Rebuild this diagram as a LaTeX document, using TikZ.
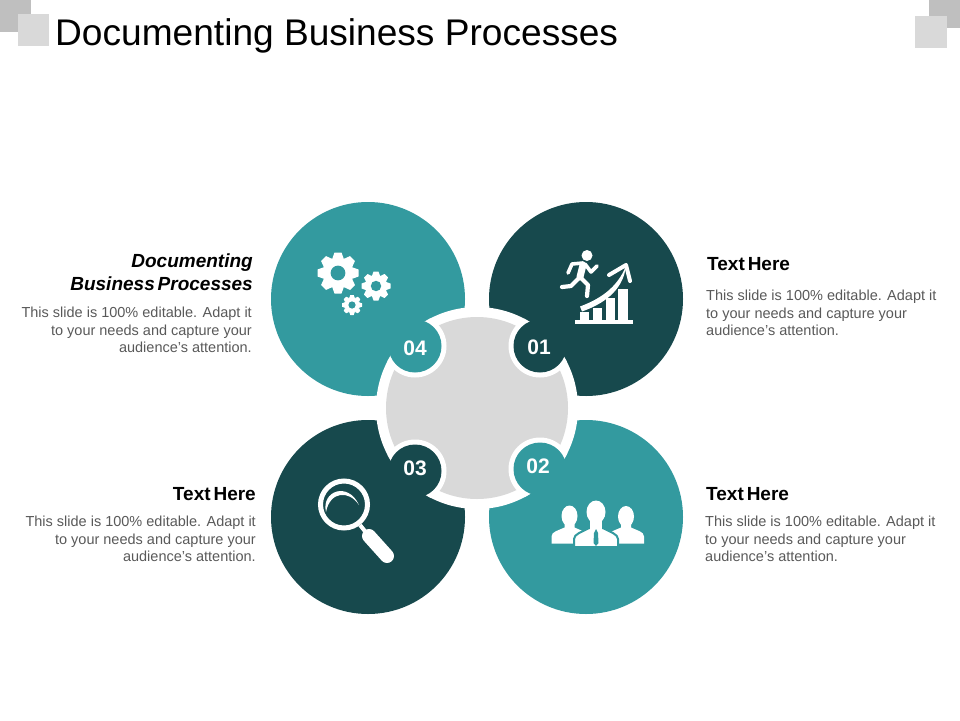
\documentclass[tikz,border=0pt]{standalone}
\usepackage{fontspec}
\setmainfont{Liberation Sans}
\newfontfamily\headfamily[WordSpace=0.55]{Liberation Sans}
\definecolor{tealc}{HTML}{339A9F}
\definecolor{darkc}{HTML}{17494D}
\definecolor{grayc}{HTML}{D9D9D9}
\definecolor{grayd}{HTML}{BFBFBF}
\definecolor{bodyc}{HTML}{595959}
\tikzset{
  bigc/.style={circle,minimum size=194pt,inner sep=0pt},
  numc/.style={circle,minimum size=53pt,inner sep=0pt},
  numt/.style={text=white,font=\fontsize{21}{21}\selectfont\bfseries},
  headr/.style={font=\headfamily\fontsize{19}{23}\selectfont\bfseries,align=left,anchor=west,inner sep=0pt},
  headl/.style={font=\headfamily\fontsize{19}{23}\selectfont\bfseries,align=right,anchor=east,inner sep=0pt},
  bodyr/.style={text=bodyc,font=\fontsize{14.5}{17.5}\selectfont,align=left,anchor=west,inner sep=0pt},
  bodyl/.style={text=bodyc,font=\fontsize{14.5}{17.5}\selectfont,align=right,anchor=east,inner sep=0pt},
  icon/.style={white,line cap=round,line join=round}
}
\newcommand{\gearicon}[4]{% x, y, radius, hole colour
  \fill[white] (#1,#2) circle (#3*.76);
  \foreach \a in {0,45,...,315}
    \fill[white,shift={(#1,#2)},rotate=\a] (-#3*.28,#3*.7) -- (-#3*.17,#3) -- (#3*.17,#3) -- (#3*.28,#3*.7) -- cycle;
  \fill[#4] (#1,#2) circle (#3*.36);
}
\newcommand{\personicon}[3]{% x of head, y of head, base y
  \fill[white] (#1,#2) ellipse (8 and 10.5);
  \fill[white] (#1-18,#3) -- (#1-18,#3-7) .. controls (#1-18,#3-12) and (#1-11,#3-13) .. (#1-5,#3-16) -- (#1-5,#3-24) -- (#1+5,#3-24) -- (#1+5,#3-16) .. controls (#1+11,#3-13) and (#1+18,#3-12) .. (#1+18,#3-7) -- (#1+18,#3) -- cycle;
}
\begin{document}
\begin{tikzpicture}[x=1pt,y=-1pt]
  \useasboundingbox (0,0) rectangle (960,720);
  % corner squares
  \fill[grayd] (0,0) rectangle (31,32);
  \fill[grayc] (18,14) rectangle (49,46);
  \fill[grayd] (929,0) rectangle (960,28);
  \fill[grayc] (915,16) rectangle (947,48);
  \node[anchor=west,inner sep=0pt,font=\fontsize{37.1}{37}\selectfont] (title) at (55,36) {Documenting Business Processes};
  % big circles
  \node[bigc,fill=tealc] (c4) at (368,299) {};
  \node[bigc,fill=darkc] (c1) at (586,299) {};
  \node[bigc,fill=darkc] (c3) at (368,517) {};
  \node[bigc,fill=tealc] (c2) at (586,517) {};
  % centre
  \fill[white] (477,408) circle (101);
  \fill[grayc] (477,408) circle (91);
  \begin{scope}
    \clip (477,408) circle (101);
    \foreach \p in {(415,346),(540,346),(415,471),(540,469)}
      \fill[white] \p circle (31.5);
  \end{scope}
  \node[numc,fill=darkc] (n1) at (540,346) {};
  \node[numc,fill=tealc] (n2) at (540,469) {};
  \node[numc,fill=darkc] (n3) at (415,471) {};
  \node[numc,fill=tealc] (n4) at (415,346) {};
  \node[numt] (t1) at (539,347) {01};
  \node[numt] (t2) at (538,466) {02};
  \node[numt] (t3) at (415,468) {03};
  \node[numt] (t4) at (415,348) {04};
  % gears
  \gearicon{338}{273}{20.5}{tealc}
  \gearicon{376}{286}{14.5}{tealc}
  \gearicon{352}{305}{10}{tealc}
  % runner
  \fill[white] (587,255.5) circle (5.5);
  \draw[icon,line width=7pt] (583,265) -- (580,277);
  \draw[icon,line width=3.6pt] (583,263) -- (572,264) -- (568,273);
  \draw[icon,line width=3.6pt] (585,264) -- (591,272) -- (597,266);
  \draw[icon,line width=4.2pt] (580,277) -- (571,286) -- (562,287);
  \draw[icon,line width=4.2pt] (580,277) -- (588,285) -- (587,296);
  % chart
  \fill[white] (580,306.5) .. controls (600,299) and (617,288) .. (626,266) .. controls (623,291) and (603,304) .. (582,311.5) -- cycle;
  \draw[icon,line width=4pt] (609,275) -- (626,265) -- (630,281);
  \fill[white] (575,320) rectangle (633,324);
  \fill[white] (580,312) rectangle (589,321);
  \fill[white] (593,308) rectangle (602,321);
  \fill[white] (606,298) rectangle (615,321);
  \fill[white] (618,289) rectangle (628,321);
  % magnifier
  \draw[white,line width=5pt] (344,504.5) circle (23.5);
  \fill[white] (326,512) .. controls (321,491) and (348,481) .. (359,505) .. controls (349,490) and (330,491) .. cycle;
  \draw[white,line width=4pt] (360,525) -- (368,535);
  \draw[icon,line width=14pt] (369,536) -- (387,556);
  % people
  \personicon{569.5}{516}{543.5}
  \personicon{626}{516.5}{543.5}
  \filldraw[fill=white,draw=tealc,line width=2pt] (574,547) -- (574,539) .. controls (574,534) and (582,532) .. (589,528) -- (603,528) .. controls (610,532) and (618,534) .. (618,539) -- (618,547) -- cycle;
  \fill[white] (596,512) ellipse (9.5 and 11.5);
  \fill[white] (590,518) rectangle (602,531);
  \fill[tealc] (596,529) -- (598,533) -- (598.5,543) -- (596,546) -- (593.5,543) -- (594,533) -- cycle;
  % texts
  \node[headr] (h1) at (707,264) {Text Here};
  \node[bodyr] (b1) at (706,313) {This slide is 100\% editable. Adapt it\\to your needs and capture your\\audience's attention.};
  \node[headr] (h2) at (706,494) {Text Here};
  \node[bodyr] (b2) at (705,539) {This slide is 100\% editable. Adapt it\\to your needs and capture your\\audience's attention.};
  \node[headl] (h3) at (256,494) {Text Here};
  \node[bodyl] (b3) at (256,539) {This slide is 100\% editable. Adapt it\\to your needs and capture your\\audience's attention.};
  \node[headl] (h4) at (253,272.5) {\textit{Documenting}\\\textit{Business Processes}};
  \node[bodyl] (b4) at (252,330) {This slide is 100\% editable. Adapt it\\to your needs and capture your\\audience's attention.};
\end{tikzpicture}
\end{document}
